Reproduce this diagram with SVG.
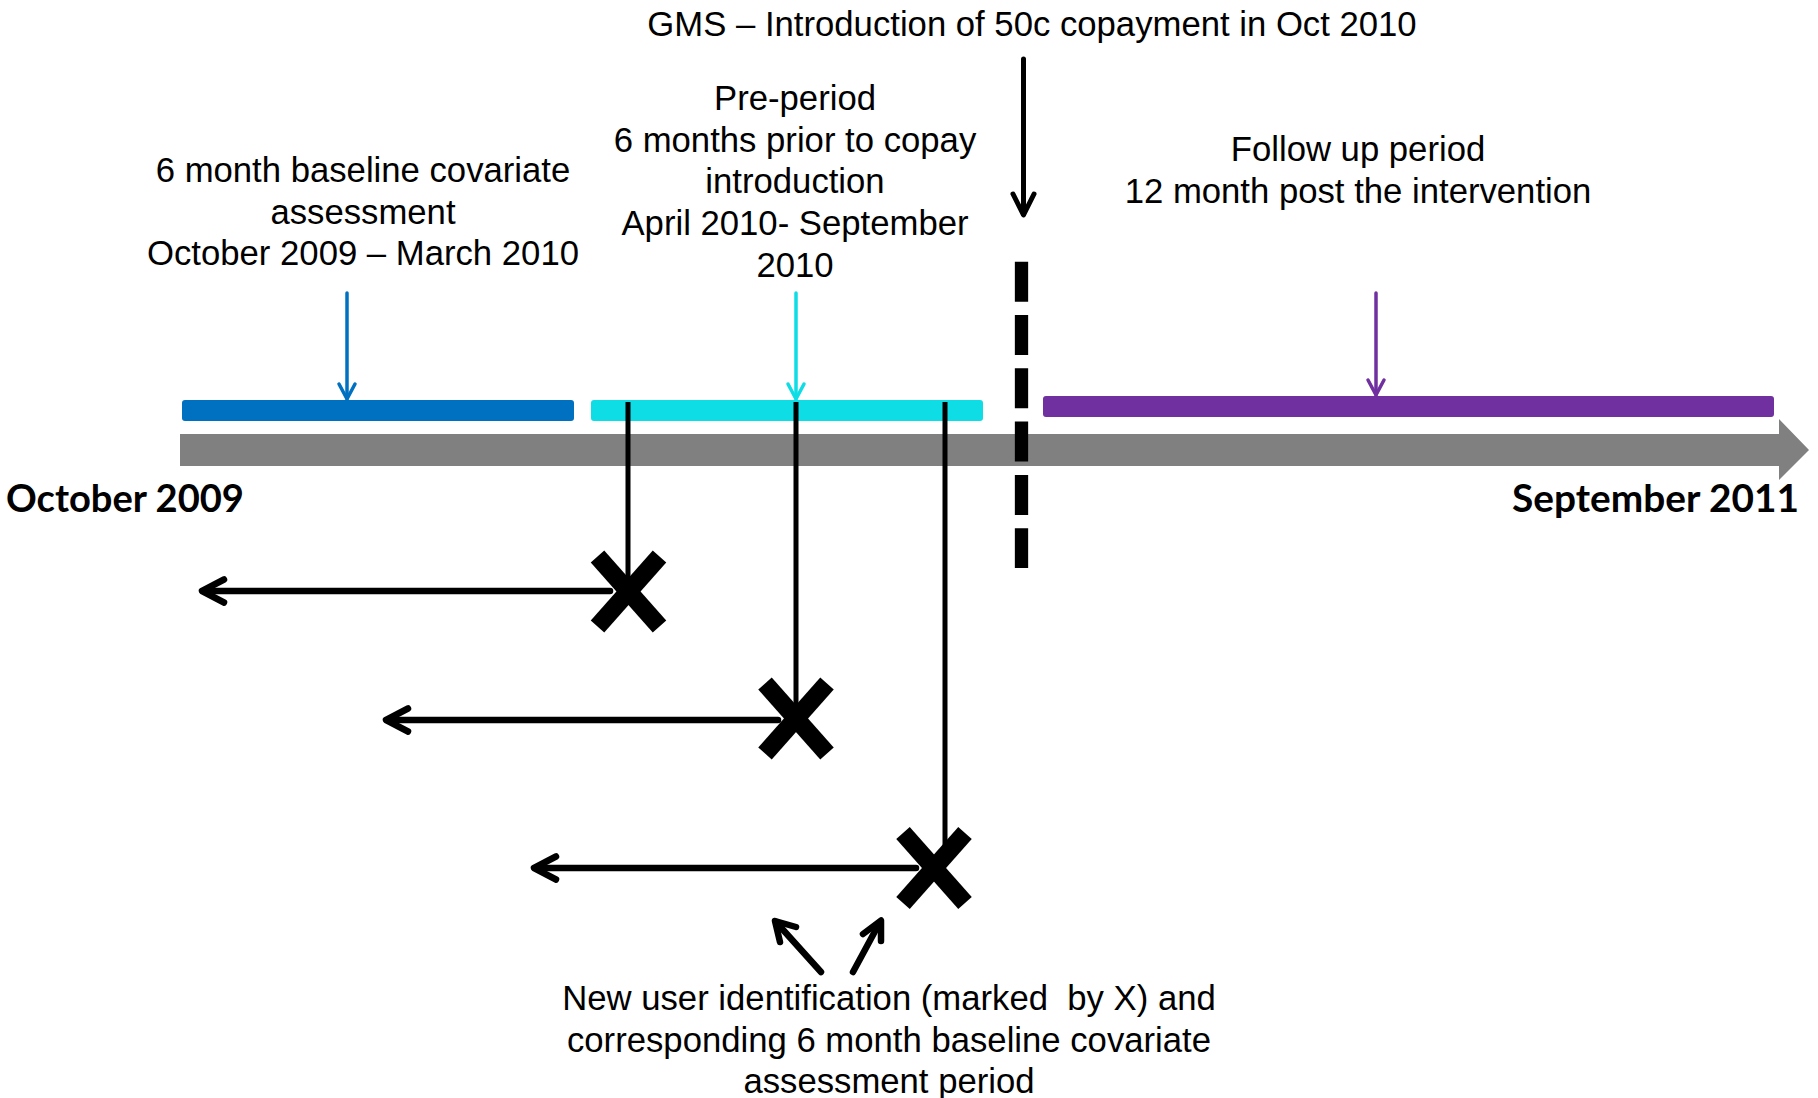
<svg xmlns="http://www.w3.org/2000/svg" width="1818" height="1098" viewBox="0 0 1818 1098">
<defs>
<style>
.t{font-family:"Liberation Sans",Arial,sans-serif;font-size:34.7px;fill:#000;text-anchor:middle;white-space:pre}
.b{font-family:Lato,"Liberation Sans",sans-serif;font-weight:bold;font-size:38px;fill:#000}
.ln{fill:none;stroke-linecap:round;stroke-linejoin:round}
.xm{stroke:#000;stroke-width:18;stroke-linecap:butt}
</style>
</defs>
<rect width="1818" height="1098" fill="#fff"/>

<g id="timeline">
<polygon points="180,434 1779,434 1779,419 1809,450 1779,480 1779,466 180,466" fill="#808080"/>
<text class="b" x="6" y="512" textLength="238" lengthAdjust="spacingAndGlyphs">October 2009</text>
<text class="b" x="1512" y="512" textLength="287" lengthAdjust="spacingAndGlyphs">September 2011</text>
</g>

<g id="baseline-period">
<rect x="182" y="400" width="392" height="21" rx="3" fill="#0070C0"/>
<text class="t" x="363" y="182">6 month baseline covariate</text>
<text class="t" x="363" y="224">assessment</text>
<text class="t" x="363" y="265">October 2009 – March 2010</text>
</g>

<g id="pre-period">
<rect x="591" y="400" width="392" height="21" rx="3" fill="#0EDDE6"/>
<text class="t" x="795" y="110">Pre-period</text>
<text class="t" x="795" y="152">6 months prior to copay</text>
<text class="t" x="795" y="193">introduction</text>
<text class="t" x="795" y="235">April 2010- September</text>
<text class="t" x="795" y="277">2010</text>
</g>

<g id="follow-up">
<rect x="1043" y="396" width="731" height="21" rx="3" fill="#7030A0"/>
<text class="t" x="1358" y="161">Follow up period</text>
<text class="t" x="1358" y="203">12 month post the intervention</text>
</g>

<g id="intervention">
<text class="t" x="1032" y="36">GMS – Introduction of 50c copayment in Oct 2010</text>
<line x1="1021.5" y1="261.7" x2="1021.5" y2="568" stroke="#000" stroke-width="13.3" stroke-dasharray="40 13.3"/>
</g>

<g id="marks">
<g transform="translate(628.5,591.5)"><line class="xm" x1="-31" y1="-35" x2="31" y2="35"/><line class="xm" x1="31" y1="-35" x2="-31" y2="35"/></g>
<g transform="translate(796,718.5)"><line class="xm" x1="-31" y1="-35" x2="31" y2="35"/><line class="xm" x1="31" y1="-35" x2="-31" y2="35"/></g>
<g transform="translate(934,868)"><line class="xm" x1="-31" y1="-35" x2="31" y2="35"/><line class="xm" x1="31" y1="-35" x2="-31" y2="35"/></g>
</g>

<g id="new-user-label">
<text class="t" x="889" y="1010">New user identification (marked  by X) and</text>
<text class="t" x="889" y="1052">corresponding 6 month baseline covariate</text>
<text class="t" x="889" y="1093">assessment period</text>
</g>

<g id="connectors">
<g class="ln" stroke="#0070C0" stroke-width="3.5"><line x1="347" y1="293" x2="347" y2="399"/><polyline points="339,384 347,399 355,384"/></g>
<g class="ln" stroke="#0EDDE6" stroke-width="3.5"><line x1="796" y1="293" x2="796" y2="399"/><polyline points="788,384 796,399 804,384"/></g>
<g class="ln" stroke="#7030A0" stroke-width="3.5"><line x1="1376" y1="293" x2="1376" y2="395"/><polyline points="1368,380 1376,395 1384,380"/></g>
<g class="ln" stroke="#000" stroke-width="5"><line x1="1023.5" y1="59" x2="1023.5" y2="214"/><polyline points="1013,194 1023.5,215 1034,194"/></g>
<g stroke="#000" stroke-width="5" fill="none">
<line x1="628" y1="402" x2="628" y2="590"/>
<line x1="796" y1="402" x2="796" y2="718"/>
<line x1="945" y1="402" x2="945" y2="858"/>
</g>
<g class="ln" stroke="#000" stroke-width="6.5">
<line x1="610" y1="591" x2="203" y2="591"/><polyline points="224,579.5 202,591 224,602.5"/>
<line x1="778" y1="720" x2="387" y2="720"/><polyline points="408,708.5 386,720 408,731.5"/>
<line x1="916" y1="868" x2="535" y2="868"/><polyline points="556,856.5 534,868 556,879.5"/>
<line x1="821" y1="972" x2="776" y2="922"/><polyline points="780,942 775,921 796,927"/>
<line x1="853" y1="972" x2="880" y2="922"/><polyline points="863,934 881,920.5 881,941"/>
</g>
</g>
</svg>
